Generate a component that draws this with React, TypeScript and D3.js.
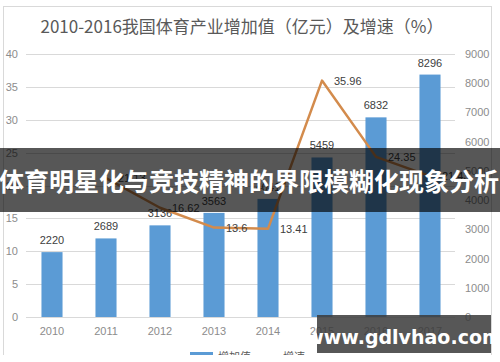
import React from "react";
import * as d3 from "d3";

// chart data
const years = ["2010", "2011", "2012", "2013", "2014", "2015", "2016", "2017"];
const addedValue = [2220, 2689, 3136, 3563, 4041, 5459, 6832, 8296];
const growthRate: (number | null)[] = [null, 21.13, 16.62, 13.6, 13.41, 35.96, 24.35, 21.43];
const leftTicks = [0, 5, 10, 15, 20, 25, 30, 35, 40];
const rightTicks = [0, 1000, 2000, 3000, 4000, 5000, 6000, 7000, 8000, 9000];

const title = "2010-2016我国体育产业增加值（亿元）及增速（%）";
const banner = "体育明星化与竞技精神的界限模糊化现象分析";
const watermark = "www.gdlvhao.com";
const legendNames = ["增加值", "增速"];

const width = 500;
const height = 362;
const plot = { left: 25, right: 457, top: 54, bottom: 317 };

const numFont = "'Liberation Sans', 'Noto Sans CJK SC', sans-serif";
const cjkFont = "'Noto Sans CJK SC', sans-serif";
const blue = "#5b9bd5";
const orange = "#d38b4c";

export default function App() {
    // scales
    const x = d3.scaleBand<string>()
        .domain(years)
        .range([plot.left, plot.right])
        .paddingInner(0.61)
        .paddingOuter(0.305);
    const yLeft = d3.scaleLinear().domain([0, 40]).range([plot.bottom, plot.top]);
    const yRight = d3.scaleLinear().domain([0, 9000]).range([plot.bottom, plot.top]);

    const cx = (i: number) => (x(years[i]) as number) + x.bandwidth() / 2;

    // growth line, starts in 2011
    const line = d3.line<number | null>()
        .defined(d => d != null)
        .x((_, i) => cx(i))
        .y(d => yLeft(d as number));

    return (
        <svg width={width} height={height} style={{ position: "absolute", left: 0, top: 0, background: "#fff" }}>
            <defs>
                <clipPath id="crop">
                    <rect x={0} y={0} width={width} height={355} />
                </clipPath>
            </defs>
            <g clipPath="url(#crop)">
                {/* chart frame */}
                <rect x={3.5} y={6.5} width={488} height={400} fill="#fff" stroke="#d9d9d9" />

                <text x={242} y={33} textAnchor="middle" fontFamily={cjkFont} fontSize={17} fill="#595959">
                    {title}
                </text>

                {/* gridlines and left axis */}
                {leftTicks.map(t => (
                    <g key={"l" + t}>
                        <line x1={26} x2={455} y1={Math.round(yLeft(t)) + 0.5} y2={Math.round(yLeft(t)) + 0.5} stroke="#d9d9d9" />
                        <text x={18} y={yLeft(t) + 4} textAnchor="end" fontFamily={numFont} fontSize={11} fill="#8c8c8c">{t}</text>
                    </g>
                ))}

                {/* right axis */}
                {rightTicks.map(t => (
                    <text key={"r" + t} x={465} y={yRight(t) + 4} fontFamily={numFont} fontSize={11} fill="#8c8c8c">{t}</text>
                ))}

                {/* bars */}
                {addedValue.map((v, i) => (
                    <g key={"b" + i}>
                        <rect x={x(years[i])} y={yRight(v)} width={x.bandwidth()} height={plot.bottom - yRight(v)} fill={blue} />
                        <text x={cx(i)} y={yRight(v) - 8} textAnchor="middle" fontFamily={numFont} fontSize={11} fill="#404040">{v}</text>
                    </g>
                ))}

                {/* x labels */}
                {years.map((yr, i) => (
                    <text key={"x" + yr} x={cx(i)} y={335} textAnchor="middle" fontFamily={numFont} fontSize={11} fill="#8c8c8c">{yr}</text>
                ))}

                {/* growth line */}
                <path d={line(growthRate) || ""} fill="none" stroke={orange} strokeWidth={2.5} strokeLinejoin="round" />
                {growthRate.map((v, i) => v == null ? null : (
                    <text key={"g" + i} x={cx(i) + 12} y={yLeft(v) + 4} fontFamily={numFont} fontSize={11} fill="#404040">{v}</text>
                ))}

                {/* legend, cut off by the crop */}
                <rect x={190} y={352} width={23} height={8} fill={blue} />
                <text x={218} y={361} fontFamily={cjkFont} fontSize={11} fill="#595959">{legendNames[0]}</text>
                <line x1={255} x2={278} y1={357} y2={357} stroke={orange} strokeWidth={2.5} />
                <text x={283} y={361} fontFamily={cjkFont} fontSize={11} fill="#595959">{legendNames[1]}</text>
            </g>

            {/* overlay banner */}
            <rect x={0} y={148} width={width} height={64} fill="#000" fillOpacity={0.66} />
            <text x={249} y={191} textAnchor="middle" fontFamily={cjkFont} fontWeight="bold" fontSize={25} fill="#fff">
                {banner}
            </text>

            {/* watermark */}
            <rect x={317} y={315} width={174} height={38} fill="#3a3a3a" fillOpacity={0.85} />
            <text x={404} y={344} textAnchor="middle" fontFamily="'DejaVu Sans', sans-serif" fontWeight="bold" fontSize={19} fill="#fff">
                {watermark}
            </text>
        </svg>
    );
}
